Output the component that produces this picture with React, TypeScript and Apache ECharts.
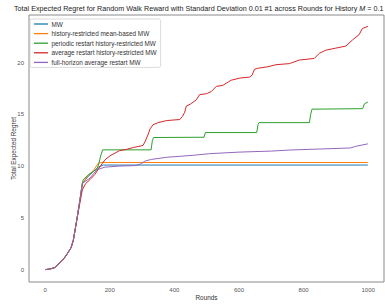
import React, { useEffect, useRef } from "react";
import * as echarts from "echarts";

const seriesNames = [
  "MW",
  "history-restricted mean-based MW",
  "periodic restart history-restricted MW",
  "average restart history-restricted MW",
  "full-horizon average restart MW",
];

const commonRounds = [0, 10, 20, 30, 40, 50, 60, 70, 80, 87, 98, 108, 115];
const commonValues = [0, 0.03, 0.1, 0.2, 0.5, 0.8, 1.15, 1.6, 2.1, 2.8, 4.8, 6.8, 8.3];

const mwRounds = [130, 150, 165, 180, 999];
const mwValues = [8.9, 9.5, 9.9, 10.1, 10.1];

const meanRounds = [130, 150, 165, 175, 999];
const meanValues = [9.0, 9.6, 10.3, 10.35, 10.35];

const periodicRounds = [118, 134, 149, 160, 165, 172, 178, 328, 332, 336, 492, 496, 655, 659, 662, 818, 822, 826, 983, 988, 999];
const periodicValues = [8.7, 9.16, 9.48, 9.7, 10.1, 11.0, 11.57, 11.57, 12.5, 12.76, 12.79, 13.24, 13.24, 14.0, 14.2, 14.2, 15.0, 15.5, 15.55, 16.0, 16.2];

const averageRounds = [108, 115, 125, 139, 154, 170, 185, 201, 231, 250, 273, 290, 303, 310, 318, 325, 334, 350, 376, 417, 425, 432, 437, 450, 468, 478, 500, 514, 530, 550, 576, 602, 633, 641, 648, 658, 690, 715, 756, 787, 833, 849, 869, 900, 931, 952, 972, 982, 999];
const averageValues = [6.5, 7.7, 8.3, 8.7, 9.2, 9.96, 10.6, 11.0, 11.5, 11.6, 11.8, 11.9, 12.0, 12.4, 13.0, 13.6, 14.0, 14.2, 14.4, 14.5, 14.8, 15.2, 15.8, 16.0, 16.4, 16.9, 17.0, 17.2, 17.7, 17.8, 18.3, 18.5, 18.6, 18.8, 19.35, 19.45, 19.6, 19.8, 19.9, 20.25, 20.4, 20.9, 21.2, 21.4, 21.6, 22.2, 22.7, 23.3, 23.5];

const fullRounds = [123, 139, 160, 185, 231, 280, 295, 310, 330, 376, 420, 460, 509, 600, 700, 756, 850, 945, 960, 999];
const fullValues = [8.5, 8.85, 9.64, 9.9, 10.0, 10.05, 10.2, 10.5, 10.65, 10.85, 10.95, 11.05, 11.2, 11.35, 11.45, 11.55, 11.65, 11.75, 11.9, 12.15];

const colors = ["#1f77b4", "#ff7f0e", "#2ca02c", "#d62728", "#9467bd"];

function build(rounds: number[], values: number[], commonCut: number) {
  const pts: [number, number][] = [];
  for (let i = 0; i < commonRounds.length; i++) {
    if (commonRounds[i] < commonCut) pts.push([commonRounds[i], commonValues[i]]);
  }
  for (let i = 0; i < rounds.length; i++) pts.push([rounds[i], values[i]]);
  return pts;
}

export default function App() {
  const ref = useRef<HTMLDivElement>(null);
  useEffect(() => {
    if (!ref.current) return;
    const chart = echarts.init(ref.current, undefined, { renderer: "svg" });
    const datasets = [
      build(mwRounds, mwValues, 120),
      build(meanRounds, meanValues, 120),
      build(periodicRounds, periodicValues, 118),
      build(averageRounds, averageValues, 105),
      build(fullRounds, fullValues, 120),
    ];
    const font = "Liberation Sans, Arial, sans-serif";
    chart.setOption({
      animation: false,
      textStyle: { fontFamily: font },
      title: {
        text: "Total Expected Regret for Random Walk Reward with Standard Deviation 0.01 #1 across Rounds for History {i|M} = 0.1",
        left: 14,
        top: 4.5,
        padding: 0,
        textStyle: {
          fontSize: 7.2,
          fontWeight: "normal",
          color: "#222",
          fontFamily: font,
          rich: { i: { fontStyle: "italic", fontSize: 7.2, color: "#222", fontFamily: font } },
        },
      },
      grid: {
        left: 29,
        right: 1,
        top: 15,
        bottom: 22,
        outerBoundsMode: "none",
        containLabel: false,
        show: true,
        borderColor: "#8a8a8a",
        borderWidth: 1,
        backgroundColor: "#fff",
      },
      legend: {
        orient: "vertical",
        left: 30,
        top: 19,
        data: seriesNames,
        icon: "rect",
        itemWidth: 14,
        itemHeight: 1.3,
        itemGap: 1.6,
        padding: [1, 4, 1, 4],
        backgroundColor: "rgba(255,255,255,0.85)",
        borderColor: "#d0d0d0",
        borderWidth: 0.8,
        borderRadius: 2,
        textStyle: { fontSize: 6.4, color: "#333", lineHeight: 8, padding: [0, 0, 0, -1.5], fontFamily: font },
      },
      xAxis: {
        type: "value",
        min: -50,
        max: 1049,
        name: "Rounds",
        nameLocation: "middle",
        nameGap: 12.5,
        nameMoveOverlap: false,
        nameTextStyle: { fontSize: 6.4, color: "#333" },
        axisLine: { show: false },
        axisTick: { show: false },
        splitLine: { show: false },
        axisLabel: {
          fontSize: 6,
          color: "#555",
          margin: 5,
          showMinLabel: false,
          showMaxLabel: false,
          formatter: (v: number) => String(v),
        },
      },
      yAxis: {
        type: "value",
        min: -1.2,
        max: 24.6,
        name: "Total Expected Regret",
        nameLocation: "middle",
        nameGap: 13,
        nameMoveOverlap: false,
        nameRotate: 90,
        nameTextStyle: { fontSize: 6.4, color: "#333" },
        axisLine: { show: false },
        axisTick: { show: false },
        splitLine: { show: false },
        axisLabel: {
          fontSize: 6,
          color: "#555",
          margin: 5,
          showMinLabel: false,
          showMaxLabel: false,
          formatter: (v: number) => String(v),
        },
      },
      series: seriesNames.map((name, i) => ({
        name,
        type: "line",
        data: datasets[i],
        showSymbol: false,
        symbol: "none",
        color: colors[i],
        lineStyle: { width: 1, color: colors[i] },
        z: 2 + i,
      })),
    });
    return () => chart.dispose();
  }, []);
  return <div ref={ref} style={{ width: 385, height: 304, position: "absolute", left: 0, top: 0 }} />;
}
